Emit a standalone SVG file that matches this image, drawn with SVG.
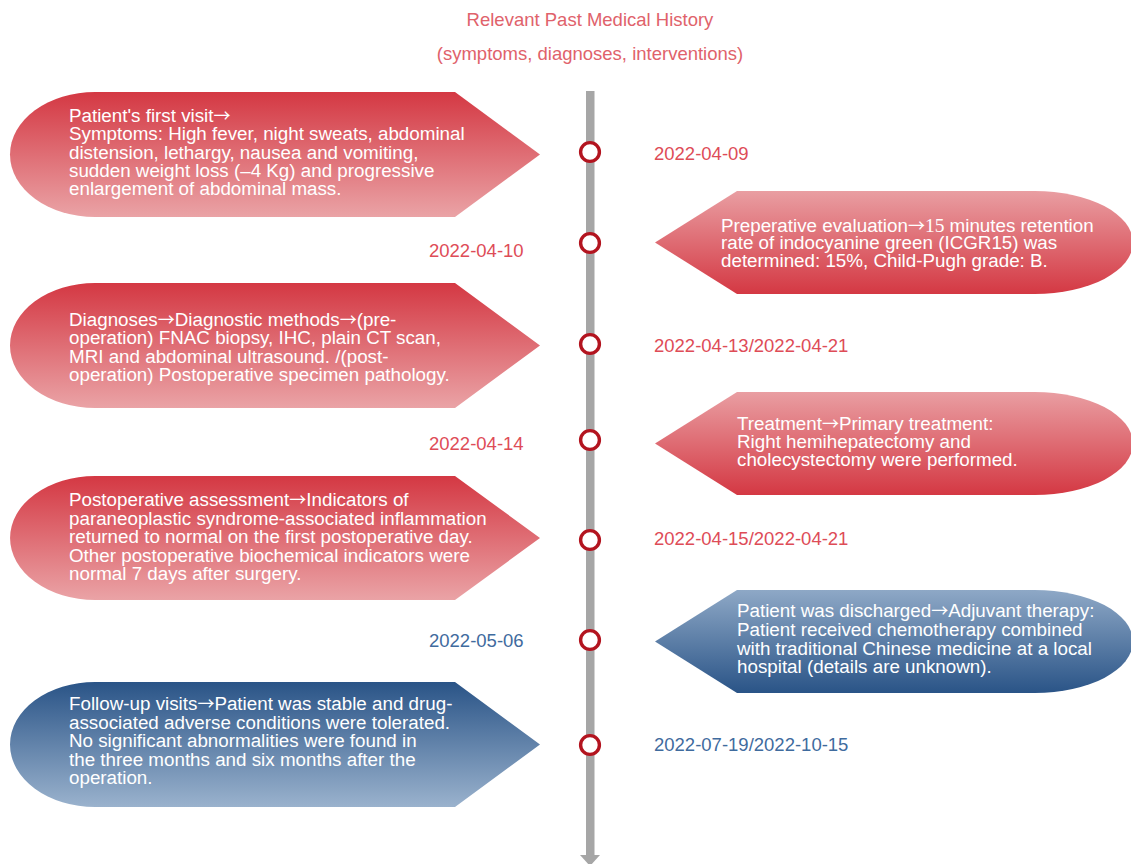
<svg xmlns="http://www.w3.org/2000/svg" width="1131" height="864" viewBox="0 0 1131 864">
<defs>
<linearGradient id="redDown" x1="0" y1="0" x2="0" y2="1">
<stop offset="0" stop-color="#d43843"/><stop offset="1" stop-color="#eaa3a6"/>
</linearGradient>
<linearGradient id="redUp" x1="0" y1="0" x2="0" y2="1">
<stop offset="0" stop-color="#e99ea2"/><stop offset="1" stop-color="#d43843"/>
</linearGradient>
<linearGradient id="blueUp" x1="0" y1="0" x2="0" y2="1">
<stop offset="0" stop-color="#8ea8c6"/><stop offset="1" stop-color="#2a5487"/>
</linearGradient>
<linearGradient id="blueDown" x1="0" y1="0" x2="0" y2="1">
<stop offset="0" stop-color="#2a5487"/><stop offset="1" stop-color="#9ab2cd"/>
</linearGradient>
</defs>
<style>
text{font-family:"Liberation Sans",Arial,Helvetica,sans-serif;font-size:18.5px}
.body{fill:#ffffff;font-size:18.8px}
.ar{font-family:"Noto Sans CJK JP","Liberation Sans",sans-serif;font-size:17px}
.sf{font-family:"Liberation Serif","Times New Roman",serif;font-size:19.5px}
.title{fill:#e0626b}
.dr{fill:#de4c57}
.db{fill:#3f6b9e}
.dot{fill:#ffffff;stroke:#b3141f;stroke-width:3.4}
</style>
<g id="title">
<text class="title" x="590" y="26" text-anchor="middle">Relevant Past Medical History</text>
<text class="title" x="590" y="60" text-anchor="middle">(symptoms, diagnoses, interventions)</text>
</g>
<g id="connectors">
<rect x="586" y="91" width="8.5" height="768" fill="#a6a6a6"/>
<polygon points="580,855 600,855 590,866" fill="#a6a6a6"/>
</g>
<g id="node1">
<path d="M95,92 L455,92 L540,154.5 L455,217 L95,217 A85,62.5 0 0 1 95,92 Z" fill="url(#redDown)"/>
<text class="body"><tspan x="69" y="122">Patient's first visit<tspan class="ar">→</tspan></tspan><tspan x="69" y="140.3">Symptoms: High fever, night sweats, abdominal</tspan><tspan x="69" y="158.6">distension, lethargy, nausea and vomiting,</tspan><tspan x="69" y="176.9">sudden weight loss (–4 Kg) and progressive</tspan><tspan x="69" y="195.2">enlargement of abdominal mass.</tspan></text>
</g>
<g id="node2">
<path d="M737,191 L1035,191 A98,51.5 0 0 1 1035,294 L737,294 L655,242.5 Z" fill="url(#redUp)"/>
<text class="body"><tspan x="721" y="231.5">Preperative evaluation<tspan class="ar">→</tspan><tspan class="sf">15</tspan> minutes retention</tspan><tspan x="721" y="249">rate of indocyanine green (ICGR15) was</tspan><tspan x="721" y="266.5">determined: 15%, Child-Pugh grade: B.</tspan></text>
</g>
<g id="node3">
<path d="M95,283 L455,283 L540,345.5 L455,408 L95,408 A85,62.5 0 0 1 95,283 Z" fill="url(#redDown)"/>
<text class="body"><tspan x="69" y="326">Diagnoses<tspan class="ar">→</tspan>Diagnostic methods<tspan class="ar">→</tspan>(pre-</tspan><tspan x="69" y="344.3">operation) FNAC biopsy, IHC, plain CT scan,</tspan><tspan x="69" y="362.6">MRI and abdominal ultrasound. /(post-</tspan><tspan x="69" y="380.9">operation) Postoperative specimen pathology.</tspan></text>
</g>
<g id="node4">
<path d="M737,392 L1035,392 A98,51.5 0 0 1 1035,495 L737,495 L655,443.5 Z" fill="url(#redUp)"/>
<text class="body"><tspan x="737" y="430">Treatment<tspan class="ar">→</tspan>Primary treatment:</tspan><tspan x="737" y="448">Right hemihepatectomy and</tspan><tspan x="737" y="466">cholecystectomy were performed.</tspan></text>
</g>
<g id="node5">
<path d="M95,476 L455,476 L540,538 L455,600 L95,600 A85,62 0 0 1 95,476 Z" fill="url(#redDown)"/>
<text class="body"><tspan x="69" y="506">Postoperative assessment<tspan class="ar">→</tspan>Indicators of</tspan><tspan x="69" y="524.5">paraneoplastic syndrome-associated inflammation</tspan><tspan x="69" y="543">returned to normal on the first postoperative day.</tspan><tspan x="69" y="561.5">Other postoperative biochemical indicators were</tspan><tspan x="69" y="580">normal 7 days after surgery.</tspan></text>
</g>
<g id="node6">
<path d="M737,590 L1035,590 A98,51.5 0 0 1 1035,693 L737,693 L655,641.5 Z" fill="url(#blueUp)"/>
<text class="body"><tspan x="737" y="617">Patient was discharged<tspan class="ar">→</tspan>Adjuvant therapy:</tspan><tspan x="737" y="636">Patient received chemotherapy combined</tspan><tspan x="737" y="654.5">with traditional Chinese medicine at a local</tspan><tspan x="737" y="673">hospital (details are unknown).</tspan></text>
</g>
<g id="node7">
<path d="M95,682 L455,682 L540,744.5 L455,807 L95,807 A85,62.5 0 0 1 95,682 Z" fill="url(#blueDown)"/>
<text class="body"><tspan x="69" y="710">Follow-up visits<tspan class="ar">→</tspan>Patient was stable and drug-</tspan><tspan x="69" y="728.5">associated adverse conditions were tolerated.</tspan><tspan x="69" y="747">No significant abnormalities were found in</tspan><tspan x="69" y="765.5">the three months and six months after the</tspan><tspan x="69" y="784">operation.</tspan></text>
</g>
<g id="markers">
<circle class="dot" cx="590" cy="152" r="9.4"/>
<circle class="dot" cx="590" cy="243" r="9.4"/>
<circle class="dot" cx="590" cy="344" r="9.4"/>
<circle class="dot" cx="590" cy="440" r="9.4"/>
<circle class="dot" cx="590" cy="540" r="9.4"/>
<circle class="dot" cx="590" cy="640" r="9.4"/>
<circle class="dot" cx="590" cy="745" r="9.4"/>
</g>
<g id="dates">
<text class="dr" x="654" y="160">2022-04-09</text>
<text class="dr" x="429" y="257">2022-04-10</text>
<text class="dr" x="654" y="352">2022-04-13/2022-04-21</text>
<text class="dr" x="429" y="450">2022-04-14</text>
<text class="dr" x="654" y="545">2022-04-15/2022-04-21</text>
<text class="db" x="429" y="647">2022-05-06</text>
<text class="db" x="654" y="751">2022-07-19/2022-10-15</text>
</g>
</svg>
